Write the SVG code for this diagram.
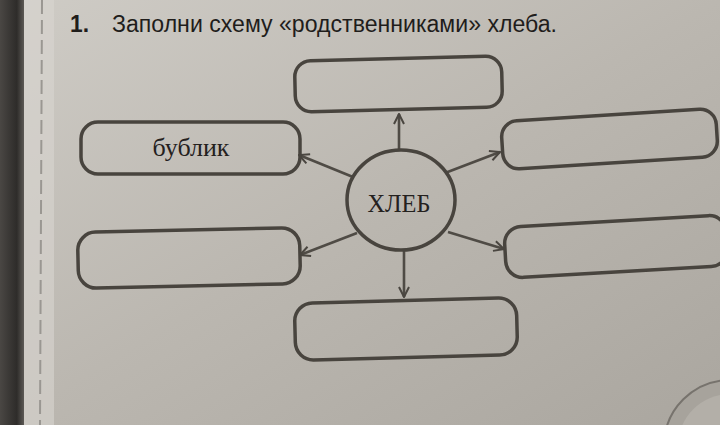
<svg xmlns="http://www.w3.org/2000/svg" width="720" height="425" viewBox="0 0 720 425">
  <defs>
    <linearGradient id="paper" x1="0" y1="0" x2="1" y2="1">
      <stop offset="0" stop-color="#cfccc6"/>
      <stop offset="0.5" stop-color="#bbb7b0"/>
      <stop offset="1" stop-color="#aaa69f"/>
    </linearGradient>
    <linearGradient id="edge" x1="0" y1="0" x2="1" y2="0">
      <stop offset="0" stop-color="#4a4744"/>
      <stop offset="0.7" stop-color="#2e2c2a"/>
      <stop offset="1" stop-color="#5c5955"/>
    </linearGradient>
    <marker id="arr" viewBox="0 0 12 12" refX="11" refY="6" markerWidth="12" markerHeight="12" markerUnits="userSpaceOnUse" orient="auto">
      <path d="M1,1 L11,6 L1,11" fill="none" stroke="#4a4640" stroke-width="2"/>
    </marker>
    <style>
      .box { fill: none; stroke: #48443e; stroke-width: 3.5; }
      .conn { stroke: #4f4b45; stroke-width: 2.6; fill: none; marker-end: url(#arr); }
      .lbl { font-family: "Liberation Serif", "DejaVu Serif", serif; fill: #24211e; text-anchor: middle; }
      .title { font-family: "Liberation Sans", "DejaVu Sans", sans-serif; fill: #1f1d1b; font-size: 23px; }
    </style>
  </defs>

  <rect x="0" y="0" width="720" height="425" fill="url(#paper)"/>
  <rect x="0" y="0" width="24" height="425" fill="url(#edge)"/>
  <rect x="24" y="0" width="30" height="425" fill="#d8d6d1" opacity="0.6"/>
  <line x1="42" y1="0" x2="40" y2="425" stroke="#9a9792" stroke-width="2" stroke-dasharray="14 6"/>

  <!-- corner logo -->
  <circle cx="730" cy="446" r="66" fill="#a7a39c" stroke="#77736d" stroke-width="2"/>
  <circle cx="730" cy="446" r="52" fill="#b3afa8"/>

  <text class="title" x="70" y="32" font-weight="bold" textLength="19" lengthAdjust="spacingAndGlyphs">1.</text>
  <text class="title" x="112" y="32" textLength="445" lengthAdjust="spacingAndGlyphs">Заполни  схему  «родственниками»  хлеба.</text>

  <g id="connectors">
    <line class="conn" x1="399" y1="150" x2="399" y2="114"/>
    <line class="conn" x1="353" y1="177" x2="299" y2="155"/>
    <line class="conn" x1="445" y1="173" x2="500" y2="152"/>
    <line class="conn" x1="357" y1="233" x2="300" y2="255"/>
    <line class="conn" x1="448" y1="232" x2="504" y2="249"/>
    <line class="conn" x1="404" y1="250" x2="404" y2="297"/>
  </g>

  <g id="center">
    <ellipse cx="401" cy="200" rx="54" ry="50" fill="none" stroke="#48443e" stroke-width="3.5"/>
    <text class="lbl" x="399" y="212" font-size="25" textLength="63" lengthAdjust="spacingAndGlyphs">ХЛЕБ</text>
  </g>

  <g id="box-top">
    <rect class="box" x="295" y="58.5" width="207" height="51" rx="16" transform="rotate(-1.4 398.5 84)"/>
  </g>
  <g id="box-left-top">
    <rect class="box" x="81" y="122" width="219" height="52" rx="17"/>
    <text class="lbl" x="191" y="156" font-size="25" textLength="77" lengthAdjust="spacingAndGlyphs">бублик</text>
  </g>
  <g id="box-right-top">
    <rect class="box" x="502" y="115" width="215" height="48" rx="16" transform="rotate(-3.6 609.5 139)"/>
  </g>
  <g id="box-left-bottom">
    <rect class="box" x="78" y="230" width="222" height="56" rx="18" transform="rotate(-1.3 189 258)"/>
  </g>
  <g id="box-right-bottom">
    <rect class="box" x="505" y="221" width="222" height="51" rx="17" transform="rotate(-3.3 616 246.5)"/>
  </g>
  <g id="box-bottom">
    <rect class="box" x="295" y="300.5" width="222" height="57" rx="18" transform="rotate(-1.5 406 329)"/>
  </g>
</svg>
